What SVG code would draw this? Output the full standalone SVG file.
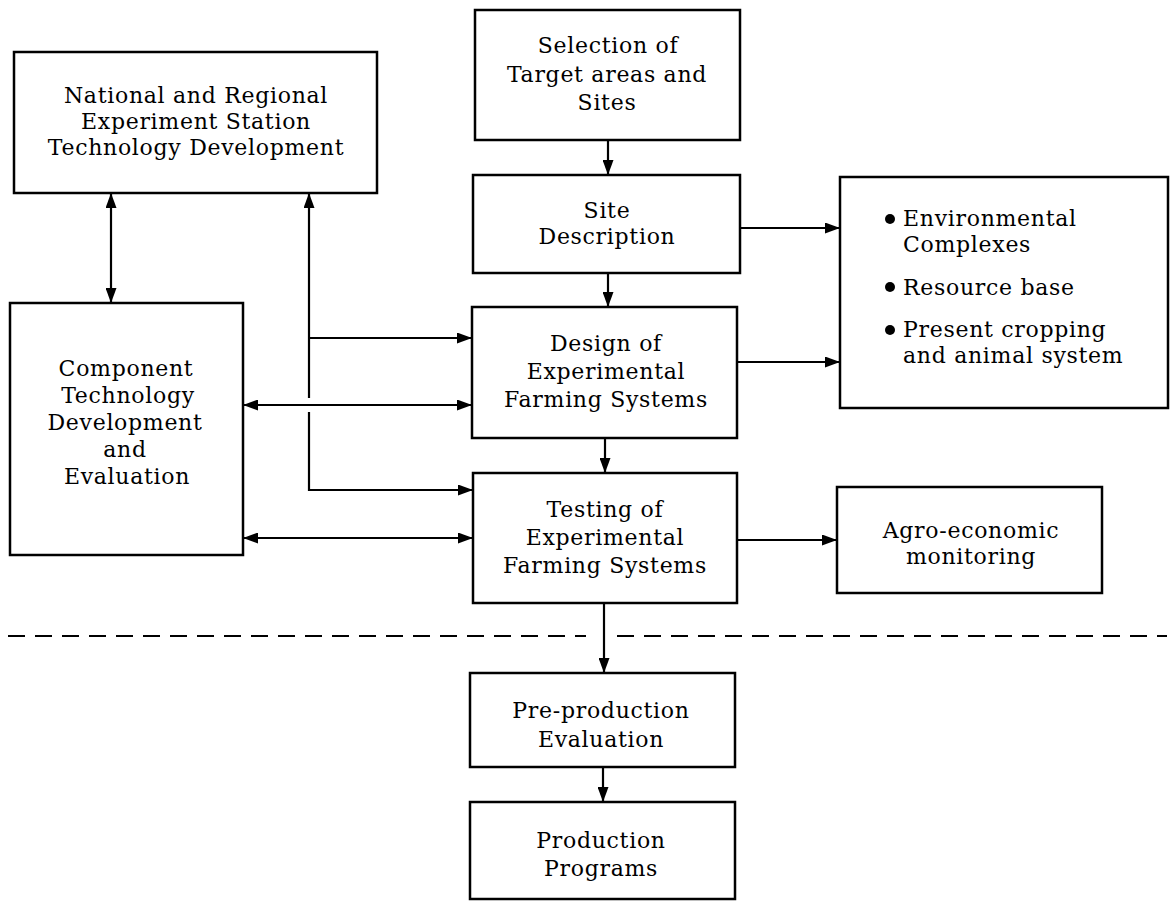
<svg xmlns="http://www.w3.org/2000/svg" width="1173" height="902" viewBox="0 0 1173 902">
<style>
.box{fill:#fff;stroke:#000;stroke-width:2.5}
.t{font-family:"DejaVu Serif","Liberation Serif",serif;font-size:22px;letter-spacing:0.7px;fill:#000;text-anchor:middle}
.tl{font-family:"DejaVu Serif","Liberation Serif",serif;font-size:22px;letter-spacing:0.7px;fill:#000}
.c{fill:none;stroke:#000;stroke-width:2.2}
.dash{fill:none;stroke:#000;stroke-width:2.2;stroke-dasharray:17 10}
</style>
<defs>
<marker id="ah" viewBox="0 0 15 11" refX="15" refY="5.5" markerWidth="15" markerHeight="11" markerUnits="userSpaceOnUse" orient="auto-start-reverse">
<path d="M0,0 L15,5.5 L0,11 Z" fill="#000"/>
</marker>
</defs>
<rect width="1173" height="902" fill="#fff"/>
<g id="connectors">
<line class="c" x1="608" y1="140" x2="608" y2="175" marker-end="url(#ah)"/>
<line class="c" x1="608" y1="273" x2="608" y2="307" marker-end="url(#ah)"/>
<line class="c" x1="605" y1="438" x2="605" y2="473" marker-end="url(#ah)"/>
<line class="c" x1="604" y1="603" x2="604" y2="673" marker-end="url(#ah)"/>
<line class="c" x1="603" y1="767" x2="603" y2="802" marker-end="url(#ah)"/>
<line class="c" x1="740" y1="228" x2="840" y2="228" marker-end="url(#ah)"/>
<line class="c" x1="737" y1="362" x2="840" y2="362" marker-end="url(#ah)"/>
<line class="c" x1="737" y1="540" x2="837" y2="540" marker-end="url(#ah)"/>
<line class="c" x1="111" y1="193" x2="111" y2="303" marker-start="url(#ah)" marker-end="url(#ah)"/>
<line class="c" x1="309" y1="398" x2="309" y2="193" marker-end="url(#ah)"/>
<polyline class="c" points="309,412 309,490 473,490" marker-end="url(#ah)"/>
<line class="c" x1="309" y1="338" x2="472" y2="338" marker-end="url(#ah)"/>
<line class="c" x1="243" y1="405" x2="472" y2="405" marker-start="url(#ah)" marker-end="url(#ah)"/>
<line class="c" x1="243" y1="538" x2="473" y2="538" marker-start="url(#ah)" marker-end="url(#ah)"/>
<line class="dash" x1="8" y1="636" x2="586" y2="636"/>
<line class="dash" x1="617" y1="636" x2="1167" y2="636"/>
</g>
<g id="national">
<rect class="box" x="14" y="52" width="363" height="141"/>
<text class="t" x="196" y="103">National and Regional</text>
<text class="t" x="196" y="129">Experiment Station</text>
<text class="t" x="196" y="155">Technology Development</text>
</g>
<g id="selection">
<rect class="box" x="475" y="10" width="265" height="130"/>
<text class="t" x="608" y="53">Selection of</text>
<text class="t" x="607" y="82">Target areas and</text>
<text class="t" x="607" y="110">Sites</text>
</g>
<g id="site">
<rect class="box" x="473" y="175" width="267" height="98"/>
<text class="t" x="607" y="218">Site</text>
<text class="t" x="607" y="244">Description</text>
</g>
<g id="design">
<rect class="box" x="472" y="307" width="265" height="131"/>
<text class="t" x="606" y="351">Design of</text>
<text class="t" x="606" y="379">Experimental</text>
<text class="t" x="606" y="407">Farming Systems</text>
</g>
<g id="features">
<rect class="box" x="840" y="177" width="328" height="231"/>
<circle cx="890" cy="219" r="5"/>
<circle cx="890" cy="287" r="5"/>
<circle cx="890" cy="330" r="5"/>
<text class="tl" x="903" y="226">Environmental</text>
<text class="tl" x="903" y="252">Complexes</text>
<text class="tl" x="903" y="295">Resource base</text>
<text class="tl" x="903" y="337">Present cropping</text>
<text class="tl" x="903" y="363">and animal system</text>
</g>
<g id="component">
<rect class="box" x="10" y="303" width="233" height="252"/>
<text class="t" x="126" y="376">Component</text>
<text class="t" x="128" y="403">Technology</text>
<text class="t" x="125" y="430">Development</text>
<text class="t" x="125" y="457">and</text>
<text class="t" x="127" y="484">Evaluation</text>
</g>
<g id="testing">
<rect class="box" x="473" y="473" width="264" height="130"/>
<text class="t" x="605" y="517">Testing of</text>
<text class="t" x="605" y="545">Experimental</text>
<text class="t" x="605" y="573">Farming Systems</text>
</g>
<g id="agro">
<rect class="box" x="837" y="487" width="265" height="106"/>
<text class="t" x="971" y="538">Agro-economic</text>
<text class="t" x="971" y="564">monitoring</text>
</g>
<g id="preproduction">
<rect class="box" x="470" y="673" width="265" height="94"/>
<text class="t" x="601" y="718">Pre-production</text>
<text class="t" x="601" y="747">Evaluation</text>
</g>
<g id="production">
<rect class="box" x="470" y="802" width="265" height="97"/>
<text class="t" x="601" y="848">Production</text>
<text class="t" x="601" y="876">Programs</text>
</g>
</svg>
